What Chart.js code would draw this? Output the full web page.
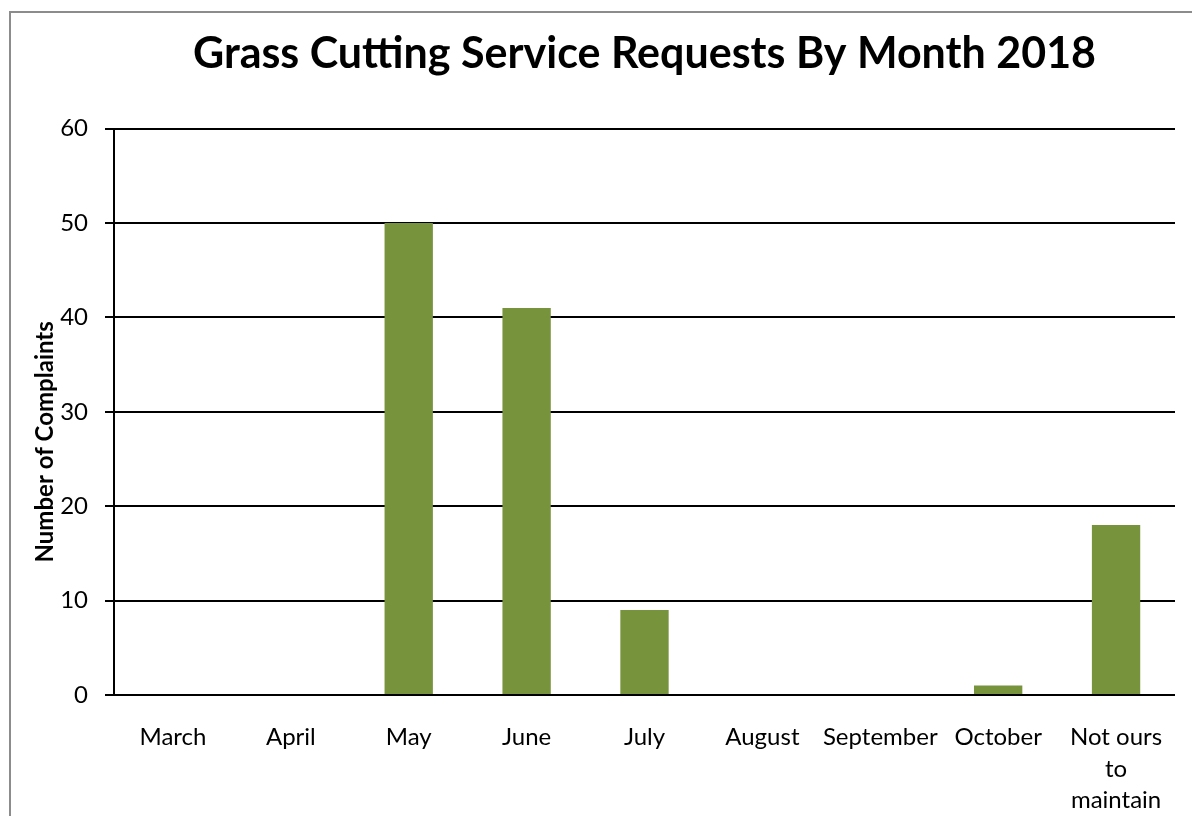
<!DOCTYPE html>
<html>
<head>
<meta charset="utf-8">
<script src="https://cdn.jsdelivr.net/npm/chart.js@4"></script>
<style>
  html, body { margin: 0; padding: 0; overflow: hidden; background: #fff; }
  #frame {
    position: absolute; left: 9px; top: 11px;
    width: 1300px; height: 900px;
    border: 2px solid #8c8c8c; box-sizing: border-box;
  }
  #wrap { position: absolute; left: 0; top: 0; width: 1192px; height: 816px; }
</style>
</head>
<body>
<div id="frame"></div>
<div id="wrap"><canvas id="grassChart"></canvas></div>
<script>
// Datos del gráfico
const months = ['March', 'April', 'May', 'June', 'July', 'August', 'September', 'October', ['Not ours', 'to', 'maintain']];
const complaints = [0, 0, 50, 41, 9, 0, 0, 1, 18];
const yTicks = [0, 10, 20, 30, 40, 50, 60];
const yAxisTitle = 'Number of Complaints';

const barColor = '#77933c';
const fontFamily = 'Lato, "Open Sans", sans-serif';

// Título del eje Y dibujado a mano: en el original está algo por debajo del centro
const yTitlePlugin = {
  id: 'yTitle',
  afterDraw: function(chart) {
    const c = chart.ctx;
    const area = chart.chartArea;
    c.save();
    c.translate(45, (area.top + area.bottom) / 2 + 30);
    c.rotate(-Math.PI / 2);
    c.font = 'bold 24px ' + fontFamily;
    c.fillStyle = '#000';
    c.textAlign = 'center';
    c.textBaseline = 'middle';
    c.fillText(yAxisTitle, 0, 0);
    c.restore();
  }
};

document.addEventListener('DOMContentLoaded', function() {
  const ctx = document.getElementById('grassChart').getContext('2d');

  new Chart(ctx, {
    type: 'bar',
    data: {
      labels: months,
      datasets: [{
        data: complaints,
        backgroundColor: barColor,
        borderWidth: 0,
        barPercentage: 0.41,
        categoryPercentage: 1
      }]
    },
    plugins: [yTitlePlugin],
    options: {
      responsive: true,
      maintainAspectRatio: false,
      animation: false,
      layout: { padding: { left: 28, right: 17, top: 0, bottom: 0 } },
      plugins: {
        legend: { display: false },
        tooltip: { enabled: false },
        title: {
          display: true,
          fullSize: false, // centrado sobre el área del gráfico
          text: 'Grass Cutting Service Requests By Month 2018',
          color: '#000',
          font: { family: fontFamily, size: 43, weight: 'bold' },
          padding: { top: 28, bottom: 49 }
        }
      },
      scales: {
        x: {
          grid: { display: false },
          border: { display: false },
          ticks: {
            color: '#000',
            maxRotation: 0,
            autoSkip: false,
            padding: 19,
            font: { family: fontFamily, size: 24, lineHeight: 1.3 }
          },
          afterFit: function(scale) { scale.height = 121; }
        },
        y: {
          min: 0,
          max: 60,
          afterBuildTicks: function(scale) {
            scale.ticks = yTicks.map(v => ({ value: v }));
          },
          grid: { color: '#000', lineWidth: 2, tickLength: 9 },
          border: { color: '#000', width: 2 },
          ticks: {
            color: '#000',
            padding: 17,
            font: { family: fontFamily, size: 24 }
          },
          afterFit: function(scale) { scale.width = 86; }
        }
      }
    }
  });
});
</script>
</body>
</html>
